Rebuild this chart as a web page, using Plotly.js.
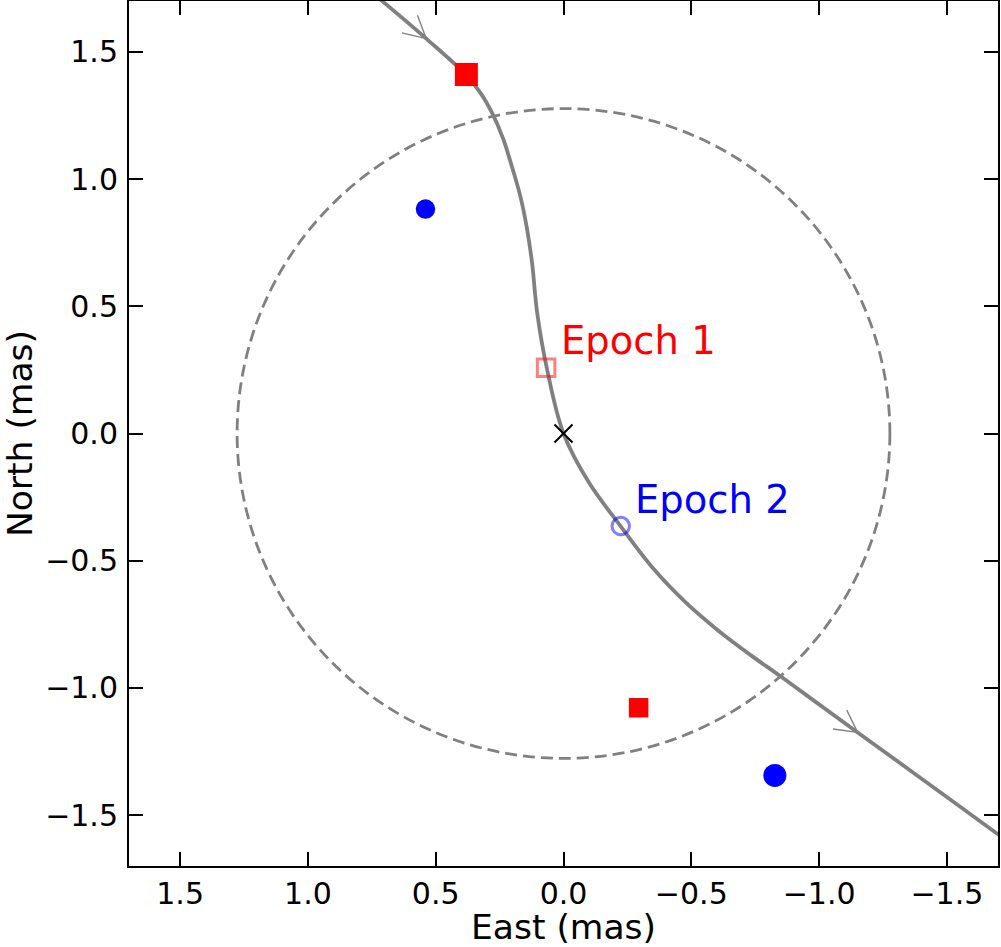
<!DOCTYPE html>
<html>
<head>
<meta charset="utf-8">
<script src="https://cdn.plot.ly/plotly-3.0.1.min.js"></script>
<style>
html,body{margin:0;padding:0;background:#fff;}
#chart{width:1001px;height:947px;}
</style>
</head>
<body>
<div id="chart"></div>
<script>
// Source trajectory (East, North) in mas
var trajEast  = [0.759, 0.712, 0.537, 0.380, 0.321, 0.279, 0.237, 0.206, 0.168, 0.142, 0.123, 0.103, 0.064, 0.0, -0.099, -0.224, -0.353, -0.481, -0.606, -0.735, -0.846, -0.969, -1.151, -1.385, -1.697, -1.755];
var trajNorth = [1.741, 1.702, 1.552, 1.408, 1.333, 1.259, 1.161, 1.063, 0.929, 0.800, 0.671, 0.475, 0.251, 0.0, -0.192, -0.365, -0.533, -0.667, -0.775, -0.873, -0.952, -1.042, -1.175, -1.345, -1.573, -1.616];
var arrowIdx = [2, 22];

// Einstein ring radius (mas)
var ringRadius = 1.277;

// Lens centre
var lensEast = [0.0];
var lensNorth = [0.0];

// Epoch 1 (red squares): source (open) and images (filled)
var ep1SrcEast = [0.068];
var ep1SrcNorth = [0.258];
var ep1ImgEast = [0.380, -0.294];
var ep1ImgNorth = [1.411, -1.078];
var ep1ImgSize = [23, 19.5];

// Epoch 2 (blue circles)
var ep2SrcEast = [-0.224];
var ep2SrcNorth = [-0.364];
var ep2ImgEast = [0.540, -0.827];
var ep2ImgNorth = [0.882, -1.344];
var ep2ImgSize = [19.5, 23];

// Labels
var labelText = ['Epoch 1', 'Epoch 2'];
var labelEast = [0.016, -0.273];
var labelNorth = [0.364, -0.259];
var labelColor = ['#ff0000', '#0000ff'];

// Axis ticks
var xTickVals = [1.5, 1.0, 0.5, 0.0, -0.5, -1.0, -1.5];
var xTickText = ['1.5', '1.0', '0.5', '0.0', '\u22120.5', '\u22121.0', '\u22121.5'];
var yTickVals = [1.5, 1.0, 0.5, 0.0, -0.5, -1.0, -1.5];
var yTickText = ['1.5', '1.0', '0.5', '0.0', '\u22120.5', '\u22121.0', '\u22121.5'];
var axisRange = 1.7;

var W = 1001, H = 947;
var M = {l: 129, r: 3, t: 1, b: 81};
var pxX = (W - M.l - M.r) / (2 * axisRange);
var pxY = (H - M.t - M.b) / (2 * axisRange);

// Open chevron arrowheads computed along the trajectory
var arrX = [], arrY = [];
arrowIdx.forEach(function (i) {
  var dxp = -(trajEast[i + 1] - trajEast[i - 1]) * pxX;
  var dyp = (trajNorth[i + 1] - trajNorth[i - 1]) * pxY;
  var ang = Math.atan2(dyp, dxp);
  var L = 25, a = 28 * Math.PI / 180;
  [ang + Math.PI - a, ang + Math.PI + a].forEach(function (b) {
    arrX.push(trajEast[i] - Math.cos(b) * L / pxX);
    arrY.push(trajNorth[i] + Math.sin(b) * L / pxY);
    arrX.push(trajEast[i]); arrY.push(trajNorth[i]);
  });
  arrX.push(null); arrY.push(null);
});

var traces = [
  {x: trajEast, y: trajNorth, mode: 'lines', type: 'scatter',
   line: {color: '#808080', width: 3.8, shape: 'spline', smoothing: 1}, hoverinfo: 'skip'},
  {x: arrX, y: arrY, mode: 'lines', type: 'scatter',
   line: {color: '#808080', width: 1.4}, hoverinfo: 'skip'},
  {x: lensEast, y: lensNorth, mode: 'markers', type: 'scatter',
   marker: {symbol: 'x-thin-open', size: 18, opacity: 1, color: '#000', line: {color: '#000', width: 2}}},
  {x: ep1SrcEast, y: ep1SrcNorth, mode: 'markers', type: 'scatter',
   marker: {symbol: 'square-open', size: 17.5, opacity: 1, color: 'rgba(255,0,0,0.5)', line: {color: 'rgba(255,0,0,0.5)', width: 3}}},
  {x: ep2SrcEast, y: ep2SrcNorth, mode: 'markers', type: 'scatter',
   marker: {symbol: 'circle-open', size: 17.5, opacity: 1, color: 'rgba(0,0,255,0.5)', line: {color: 'rgba(0,0,255,0.5)', width: 3}}},
  {x: ep1ImgEast, y: ep1ImgNorth, mode: 'markers', type: 'scatter',
   marker: {symbol: 'square', size: ep1ImgSize, sizemode: 'diameter', opacity: 1, color: '#ff0000', line: {width: 0}}},
  {x: ep2ImgEast, y: ep2ImgNorth, mode: 'markers', type: 'scatter',
   marker: {symbol: 'circle', size: ep2ImgSize, sizemode: 'diameter', opacity: 1, color: '#0000ff', line: {width: 0}}}
];

var annotations = labelText.map(function (t, i) {
  return {x: labelEast[i], y: labelNorth[i], xref: 'x', yref: 'y', text: t,
          showarrow: false, xanchor: 'left', yanchor: 'middle',
          font: {family: 'DejaVu Sans', size: 38.5, color: labelColor[i]}};
});

var axisCommon = {
  showgrid: false, zeroline: false,
  showline: true, linecolor: '#000', linewidth: 2, mirror: 'ticks',
  ticks: 'inside', ticklen: 14, tickwidth: 2, tickcolor: '#000',
  tickfont: {family: 'DejaVu Sans', size: 30, color: '#000'}
};

var layout = {
  width: W, height: H, margin: M,
  paper_bgcolor: '#fff', plot_bgcolor: '#fff',
  showlegend: false,
  font: {family: 'DejaVu Sans', color: '#000'},
  xaxis: Object.assign({}, axisCommon, {
    range: [axisRange, -axisRange], tickvals: xTickVals, ticktext: xTickText,
    ticklabelstandoff: 0,
    title: {text: 'East (mas)', font: {family: 'DejaVu Sans', size: 34.5, color: '#000'}, standoff: 8}
  }),
  yaxis: Object.assign({}, axisCommon, {
    range: [-axisRange, axisRange], tickvals: yTickVals, ticktext: yTickText,
    ticklabelstandoff: 3,
    title: {text: 'North (mas)', font: {family: 'DejaVu Sans', size: 34.5, color: '#000'}, standoff: 10}
  }),
  shapes: [{type: 'circle', xref: 'x', yref: 'y', layer: 'below',
            x0: -ringRadius, x1: ringRadius, y0: -ringRadius, y1: ringRadius,
            line: {color: '#808080', width: 2.8, dash: '12px,6px'}}],
  annotations: annotations
};

Plotly.newPlot('chart', traces, layout, {staticPlot: true, displayModeBar: false});
</script>
</body>
</html>
